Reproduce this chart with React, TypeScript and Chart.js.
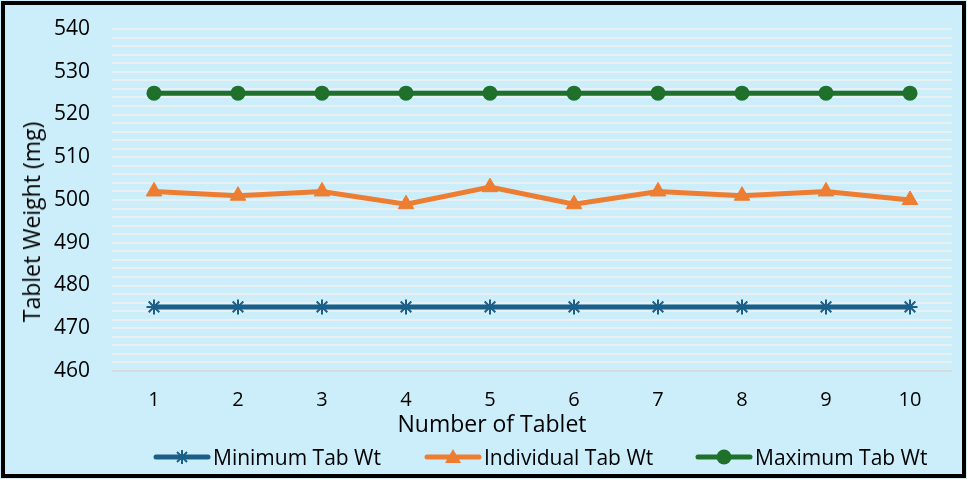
import React, { useEffect, useRef } from "react";
import { Chart, registerables } from "chart.js";

Chart.register(...registerables);

const categories = ["1", "2", "3", "4", "5", "6", "7", "8", "9", "10"];
const minimumTabWt = [475, 475, 475, 475, 475, 475, 475, 475, 475, 475];
const individualTabWt = [502, 501, 502, 499, 503, 499, 502, 501, 502, 500];
const maximumTabWt = [525, 525, 525, 525, 525, 525, 525, 525, 525, 525];
const seriesNames = ["Minimum Tab Wt", "Individual Tab Wt", "Maximum Tab Wt"];
const yMin = 460;
const yMax = 540;

const BLUE = "#1B5F88";
const ORANGE = "#ED7D31";
const GREEN = "#1F702A";
const BG = "#CCEEFB";
const FONT = "'Open Sans', 'Noto Sans', sans-serif";

function LegendIcon({ kind, color }: { kind: string; color: string }) {
  return (
    <svg width={58} height={20} style={{ display: "block" }}>
      <line x1={3} y1={10} x2={55} y2={10} stroke={color} strokeWidth={5} strokeLinecap="round" />
      {kind === "star" && (
        <g stroke={color} strokeWidth={2}>
          <line x1={29} y1={3} x2={29} y2={17} />
          <line x1={22} y1={10} x2={36} y2={10} />
          <line x1={24} y1={5} x2={34} y2={15} />
          <line x1={34} y1={5} x2={24} y2={15} />
        </g>
      )}
      {kind === "tri" && <polygon points="29,2 37,16 21,16" fill={color} />}
      {kind === "circle" && <circle cx={29} cy={10} r={7.5} fill={color} />}
    </svg>
  );
}

export default function App() {
  const ref = useRef<HTMLCanvasElement | null>(null);

  useEffect(() => {
    document.body.style.margin = "0";
    const canvas = ref.current;
    if (!canvas) return;
    const chart = new Chart(canvas, {
      type: "line",
      data: {
        labels: categories,
        datasets: [
          {
            label: seriesNames[0],
            data: minimumTabWt,
            borderColor: BLUE,
            backgroundColor: BLUE,
            borderWidth: 5,
            pointStyle: "star",
            pointRadius: 7.5,
            pointBorderWidth: 2,
            pointBorderColor: BLUE,
          },
          {
            label: seriesNames[1],
            data: individualTabWt,
            borderColor: ORANGE,
            backgroundColor: ORANGE,
            borderWidth: 5,
            pointStyle: "triangle",
            pointRadius: 9,
            pointBorderWidth: 1,
          },
          {
            label: seriesNames[2],
            data: maximumTabWt,
            borderColor: GREEN,
            backgroundColor: GREEN,
            borderWidth: 5,
            pointStyle: "circle",
            pointRadius: 7.5,
            pointBorderWidth: 0,
          },
        ],
      },
      options: {
        animation: false,
        responsive: false,
        maintainAspectRatio: false,
        layout: { padding: { top: 29, right: 15, left: 10, bottom: 0 } },
        plugins: { legend: { display: false }, tooltip: { enabled: false } },
        scales: {
          x: {
            type: "category",
            offset: true,
            grid: { display: false, drawTicks: false },
            border: { display: false },
            ticks: { color: "#000", font: { family: FONT, size: 20 }, padding: 17 },
            afterFit: (s: any) => {
              s.height = 108;
              s.paddingLeft = 0;
              s.paddingRight = 0;
            },
          },
          y: {
            min: yMin,
            max: yMax,
            border: { display: false },
            grid: {
              drawTicks: false,
              lineWidth: 2,
              color: (ctx: any) => (ctx.tick && ctx.tick.value === yMin ? "#D6DADC" : "#EAEFF1"),
            },
            ticks: {
              stepSize: 2,
              autoSkip: false,
              color: "#000",
              padding: 22,
              font: { family: FONT, size: 21 },
              callback: (v: any) => (Number(v) % 10 === 0 ? String(v) : ""),
            },
            afterFit: (s: any) => {
              s.width = 102;
              s.paddingTop = 0;
              s.paddingBottom = 0;
            },
          },
        },
      },
    });
    return () => chart.destroy();
  }, []);

  const legendItems = [
    { kind: "star", color: BLUE, name: seriesNames[0], x: 153 },
    { kind: "tri", color: ORANGE, name: seriesNames[1], x: 424 },
    { kind: "circle", color: GREEN, name: seriesNames[2], x: 695 },
  ];

  return (
    <div
      style={{
        position: "fixed",
        left: 0,
        top: 0,
        width: 967,
        height: 479,
        background: BG,
        overflow: "hidden",
        fontFamily: FONT,
      }}
    >
      <canvas ref={ref} width={967} height={479} style={{ position: "absolute", left: 0, top: 0 }} />
      <div
        style={{
          position: "absolute",
          left: 31,
          top: 222,
          transform: "translate(-50%, -50%) rotate(-90deg)",
          whiteSpace: "nowrap",
          fontSize: 23,
          color: "#000",
        }}
      >
        Tablet Weight (mg)
      </div>
      <div
        style={{
          position: "absolute",
          left: 492,
          top: 423,
          transform: "translate(-50%, -50%)",
          whiteSpace: "nowrap",
          fontSize: 23,
          color: "#000",
        }}
      >
        Number of Tablet
      </div>
      {legendItems.map((it) => (
        <div
          key={it.name}
          style={{
            position: "absolute",
            left: it.x,
            top: 457,
            transform: "translateY(-50%)",
            display: "flex",
            alignItems: "center",
            whiteSpace: "nowrap",
            fontSize: 21,
            color: "#000",
          }}
        >
          <LegendIcon kind={it.kind} color={it.color} />
          <span style={{ marginLeft: 2 }}>{it.name}</span>
        </div>
      ))}
      <div
        style={{
          position: "absolute",
          left: 1,
          top: 1,
          right: 1,
          bottom: 1,
          border: "4px solid #000",
          pointerEvents: "none",
        }}
      />
    </div>
  );
}
